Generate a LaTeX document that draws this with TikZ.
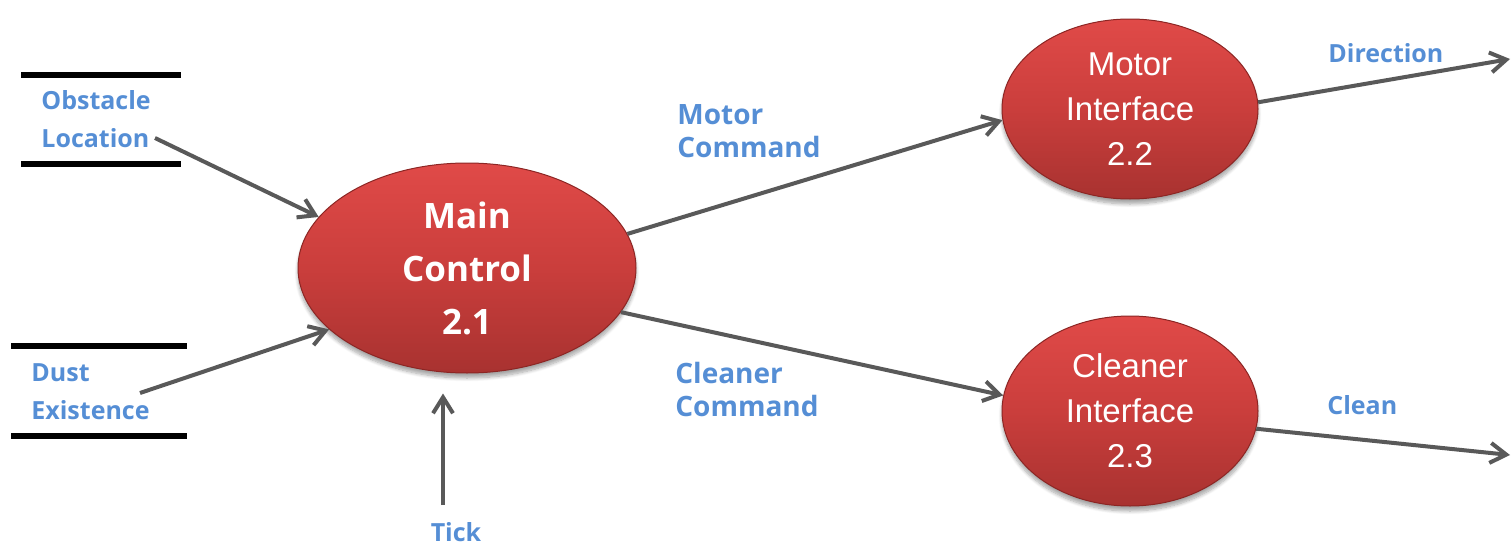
\documentclass[tikz,border=0pt]{standalone}
\usepackage{fontspec}
\newfontfamily\lblfont{Open Sans}
\newfontfamily\procfont{Liberation Sans}
\usetikzlibrary{arrows.meta,shapes.geometric,shadows.blur}

\definecolor{flowblue}{RGB}{85,142,213}
\definecolor{flowgray}{RGB}{89,89,89}
\definecolor{bubbletop}{RGB}{224,74,72}
\definecolor{bubblemid}{RGB}{202,62,60}
\definecolor{bubblebot}{RGB}{168,50,48}
\definecolor{bubblerim}{RGB}{140,38,36}

\tikzset{
  process/.style={ellipse, inner sep=0pt, align=center, text=white,
    top color=bubbletop, bottom color=bubblebot, middle color=bubblemid,
    draw=bubblerim, line width=0.5pt,
    blur shadow={shadow xshift=0pt, shadow yshift=-2.5pt,
                 shadow blur steps=8, shadow opacity=35}},
  mainfont/.style={font=\lblfont\bfseries\fontsize{17.5}{26.5}\selectfont},
  ifacefont/.style={font=\procfont\fontsize{16.5}{22.5}\selectfont},
  flowlabel/.style={font=\lblfont\bfseries\fontsize{12.5}{19}\selectfont,
    text=flowblue, align=left, inner sep=0pt, anchor=west},
  cmdlabel/.style={flowlabel, font=\lblfont\bfseries\fontsize{14}{16.5}\selectfont},
  flow/.style={draw=flowgray, line width=2pt,
    -{Straight Barb[length=8pt,width=10pt]}},
  storebar/.style={line width=3pt, black},
}

\begin{document}
\begin{tikzpicture}[x=0.5pt,y=-0.5pt]
\useasboundingbox (0,0) rectangle (1512,546);

% processes
\node[process, mainfont, minimum width=169pt, minimum height=105pt]
  (main) at (467,268) {Main\\Control\\2.1};
\node[process, ifacefont, minimum width=128pt, minimum height=90pt]
  (motor) at (1130,109) {Motor\\Interface\\2.2};
\node[process, ifacefont, minimum width=128pt, minimum height=95pt]
  (cleaner) at (1130,411) {Cleaner\\Interface\\2.3};

% data stores
\draw[storebar] (21,74.5) -- (181,74.5);
\draw[storebar] (21,163.5) -- (181,163.5);
\draw[storebar] (11,346) -- (187,346);
\draw[storebar] (11,435.5) -- (187,435.5);

% flow labels
\node[flowlabel] (obs) at (41,119) {Obstacle\\Location};
\node[flowlabel] (dust) at (31,392) {Dust\\Existence};
\node[cmdlabel] (mcmd) at (677,131) {Motor\\Command};
\node[cmdlabel] (ccmd) at (675,389) {Cleaner\\Command};
\node[flowlabel] (dir) at (1328,53) {Direction};
\node[flowlabel] (cln) at (1327,405) {Clean};
\node[flowlabel, anchor=center] (tick) at (456,532) {Tick};

% free ends of the flows
\coordinate (obsout) at (155,138);
\coordinate (dustout) at (140,393);
\coordinate (tickout) at (443,505);
\coordinate (dirend) at (1510,59);
\coordinate (clnend) at (1510,455);

% flows
\draw[flow] (obsout) -- (main.161.7);
\draw[flow] (dustout) -- (main.204.7);
\draw[flow, shorten >=10pt] (tickout) -- (tickout |- main.south);
\draw[flow] (main.12.9) -- (motor.185);
\draw[flow] (main.-16.4) -- (cleaner.173.5);
\draw[flow] (motor.3) -- (dirend);
\draw[flow] (cleaner.-8) -- (clnend);
\end{tikzpicture}
\end{document}
